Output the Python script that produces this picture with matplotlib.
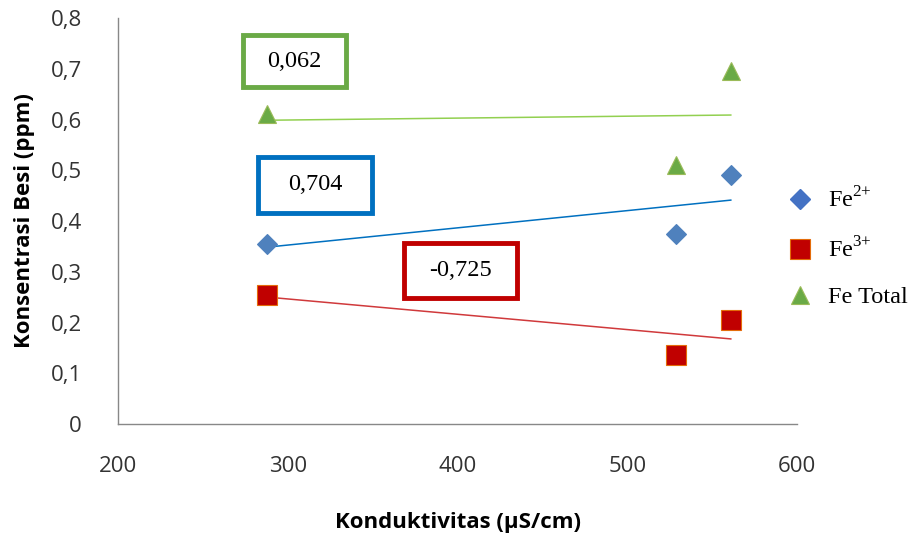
import matplotlib
matplotlib.use("Agg")
import matplotlib.pyplot as plt
from matplotlib.ticker import FuncFormatter, MultipleLocator
from matplotlib.lines import Line2D
from matplotlib.patches import Rectangle
import numpy as np

plt.rcParams['mathtext.fontset'] = 'custom'
plt.rcParams['mathtext.rm'] = 'Liberation Serif'

# konduktivitas (uS/cm) dan konsentrasi besi (ppm)
konduktivitas = [288, 529, 561]
fe2 = [0.355, 0.375, 0.49]
fe3 = [0.255, 0.135, 0.205]
fe_total = [0.61, 0.51, 0.695]
nilai_r = ["0,704", "-0,725", "0,062"]

fig = plt.figure(figsize=(9.12, 5.33), dpi=100)
ax = fig.add_axes([0.1294, 0.2045, 0.7445, 0.7617])

seri = [
    (fe2, 'D', '#4F81BD', '#4F81BD', '#0070C0', 10.5),
    (fe3, 's', '#C00000', '#E46C0A', '#D0393B', 14),
    (fe_total, '^', '#6AAA46', '#9BBB59', '#92D050', 13.5),
]
x = np.array(konduktivitas)
for y, m, fc, ec, lc, ms in seri:
    ax.plot(x, y, linestyle='none', marker=m, markersize=ms,
            markerfacecolor=fc, markeredgecolor=ec, markeredgewidth=0.8, zorder=3)
    # garis tren linear
    a, b = np.polyfit(x, y, 1)
    xx = np.array([x.min(), x.max()])
    ax.plot(xx, a * xx + b, color=lc, linewidth=1.1, zorder=2)

ax.set_xlim(200, 600)
ax.set_ylim(0, 0.8)
ax.xaxis.set_major_locator(MultipleLocator(100))
ax.yaxis.set_major_locator(MultipleLocator(0.1))
ax.yaxis.set_major_formatter(FuncFormatter(
    lambda v, p: '0' if abs(v) < 1e-9 else ('%.1f' % v).replace('.', ',')))
ax.tick_params(length=0, labelsize=16, labelcolor='#333333')
ax.tick_params(axis='x', pad=23)
ax.tick_params(axis='y', pad=26)
for lbl in ax.get_xticklabels() + ax.get_yticklabels():
    lbl.set_family('Open Sans')
for s in ['top', 'right']:
    ax.spines[s].set_visible(False)
for s in ['left', 'bottom']:
    ax.spines[s].set_color('#888888')
    ax.spines[s].set_linewidth(1)

ax.set_xlabel('Konduktivitas (µS/cm)', fontsize=16, fontweight='bold',
              family='Open Sans', labelpad=25)
ax.set_ylabel('Konsentrasi Besi (ppm)', fontsize=16, fontweight='bold',
              family='Open Sans', labelpad=11)

# kotak nilai koefisien korelasi: (x tengah, y tengah, lebar, tinggi)
kotak = [
    (316, 0.471, 67, 0.110, nilai_r[0], '#0070C0'),
    (402, 0.302, 66.5, 0.108, nilai_r[1], '#C00000'),
    (304, 0.715, 61, 0.102, nilai_r[2], '#6AAA46'),
]
for xc, yc, w, h, teks, warna in kotak:
    ax.add_patch(Rectangle((xc - w / 2, yc - h / 2), w, h, facecolor='white',
                           edgecolor=warna, linewidth=3.5, zorder=4))
    ax.text(xc, yc, teks, ha='center', va='center', fontsize=17.5,
            family='Liberation Serif', color='black', zorder=5)

handles = [
    Line2D([], [], linestyle='none', marker='D', markersize=10.5,
           markerfacecolor='#4472C4', markeredgecolor='#4472C4'),
    Line2D([], [], linestyle='none', marker='s', markersize=14,
           markerfacecolor='#C00000', markeredgecolor='#E46C0A', markeredgewidth=0.8),
    Line2D([], [], linestyle='none', marker='^', markersize=13.5,
           markerfacecolor='#6AAA46', markeredgecolor='#9BBB59', markeredgewidth=0.8),
]
fig.legend(handles, [r'Fe$^{\mathrm{2{+}}}$', r'Fe$^{\mathrm{3{+}}}$', 'Fe Total'],
           loc='center left', bbox_to_anchor=(0.836, 0.535), frameon=False,
           prop={'family': 'Liberation Serif', 'size': 17.5},
           labelspacing=1.0, handletextpad=0.5, handlelength=1.3)

fig.savefig('out.png', dpi=100)
